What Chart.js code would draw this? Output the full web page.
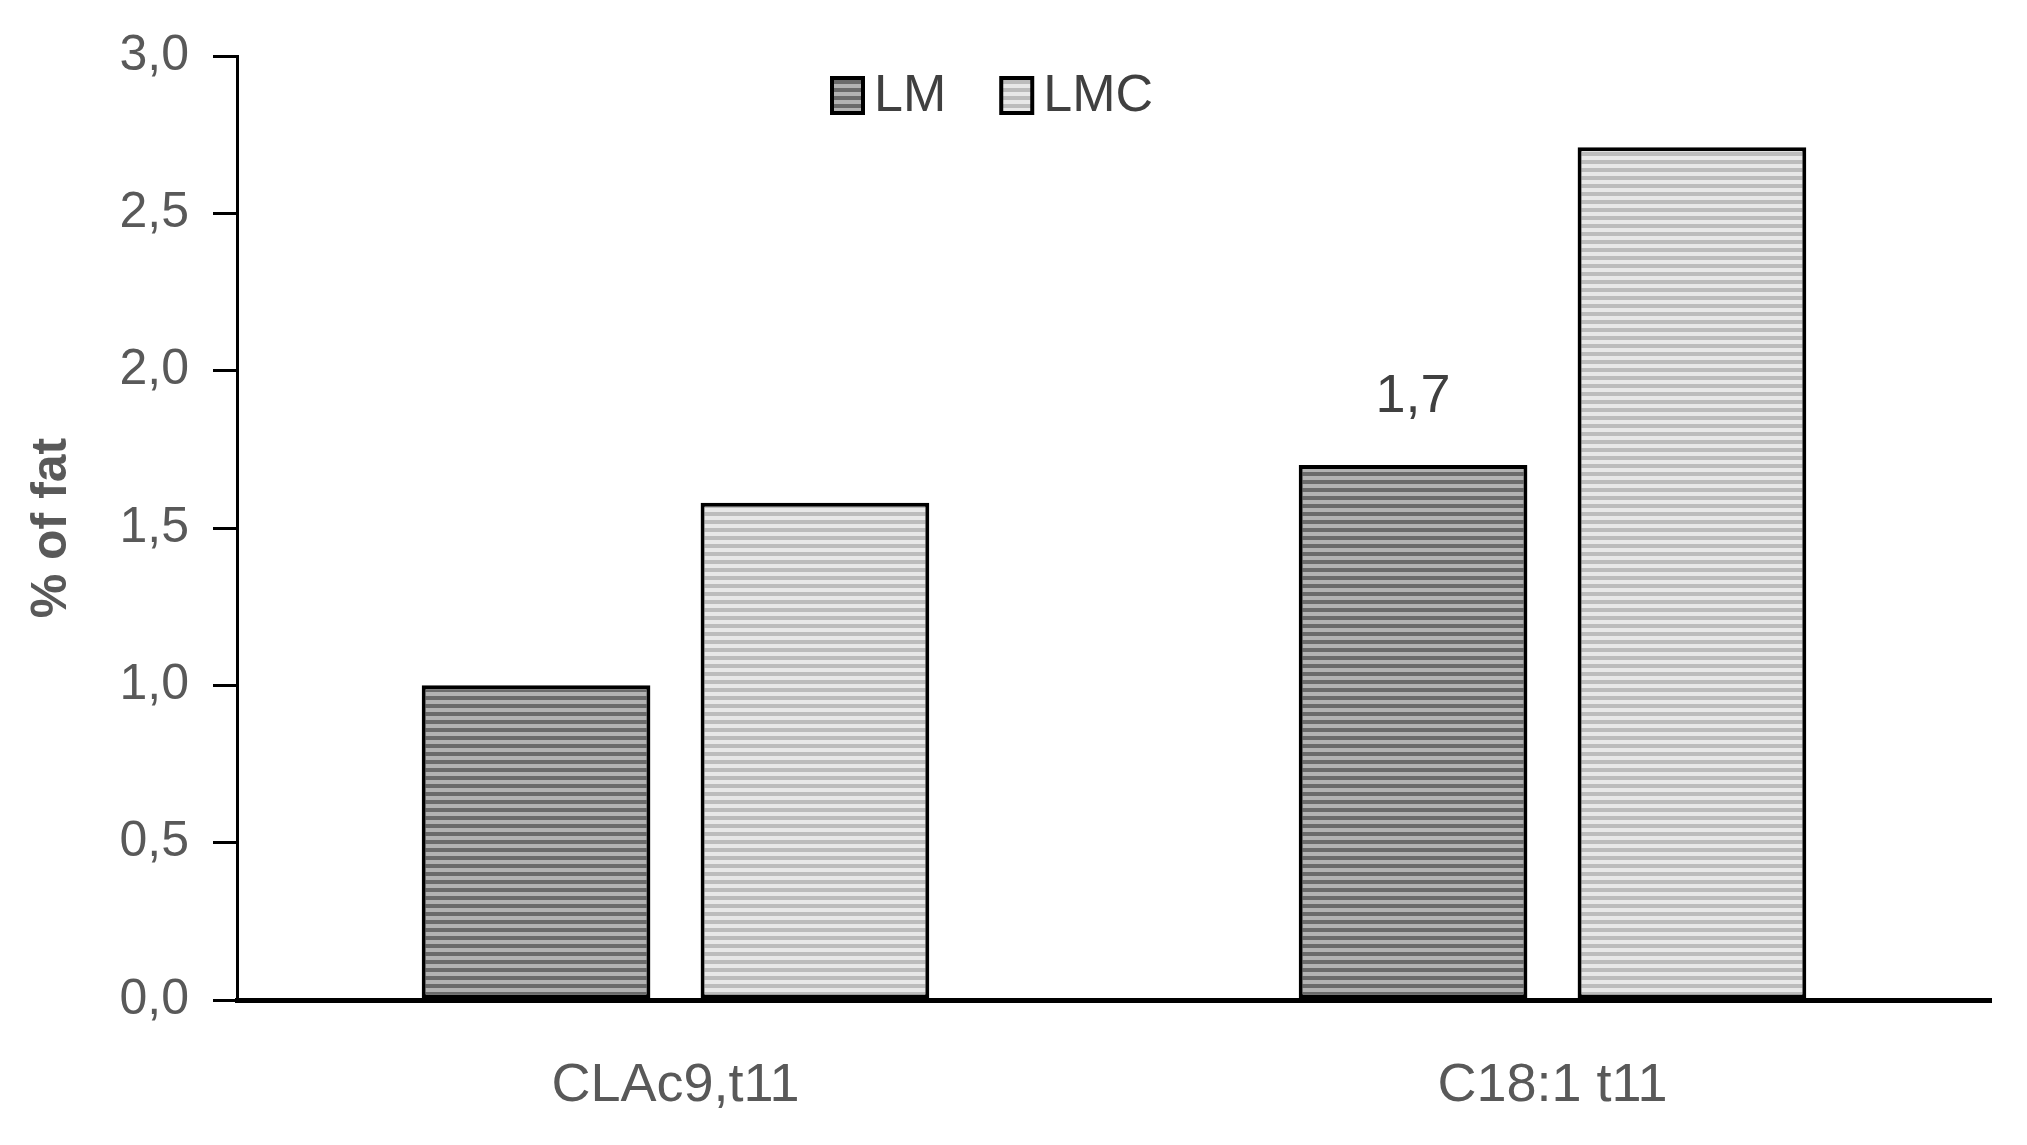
<!DOCTYPE html>
<html>
<head>
<meta charset="utf-8">
<title>% of fat</title>
<script src="https://cdn.jsdelivr.net/npm/chart.js@4/dist/chart.umd.min.js"></script>
<style>
    html, body { margin: 0; padding: 0; background: #fff; }
    #wrap { width: 2027px; height: 1145px; }
</style>
</head>
<body>
<div id="wrap"><canvas id="fatChart"></canvas></div>
<script>
// values
const categories = ['CLAc9,t11', 'C18:1 t11'];
const lmValues = [1.0, 1.7];
const lmcValues = [1.58, 2.71];
const lmLabels = ['', '1,7'];   // only one bar is labelled in the original
const yTickLabels = ['0,0', '0,5', '1,0', '1,5', '2,0', '2,5', '3,0'];

const FONT = '"Liberation Sans", Arial, sans-serif';

// horizontal stripe fill, like the Excel pattern fill
function stripes(dark, light) {
    const c = document.createElement('canvas');
    c.width = 8;
    c.height = 8;
    const g = c.getContext('2d');
    g.fillStyle = light;
    g.fillRect(0, 0, 8, 8);
    g.fillStyle = dark;
    g.fillRect(0, 0, 8, 4);
    return g.createPattern(c, 'repeat');
}

const lmFill = stripes('#6a6a6a', '#b2b2b2');
const lmcFill = stripes('#bcbcbc', '#e8e8e8');

// legend sits inside the plot, so it is drawn here instead of by the built-in box
const innerLegend = {
    id: 'innerLegend',
    afterDraw(chart) {
        const ctx = chart.ctx;
        const y = 95;
        let x = 832;
        ctx.save();
        ctx.font = '52px ' + FONT;
        ctx.textBaseline = 'middle';
        chart.data.datasets.forEach(ds => {
            ctx.fillStyle = ds.backgroundColor;
            ctx.fillRect(x, y - 17, 31, 35);
            ctx.strokeStyle = '#000';
            ctx.lineWidth = 4;
            ctx.strokeRect(x, y - 17, 31, 35);
            ctx.fillStyle = '#404040';
            ctx.fillText(ds.label, x + 42, y + 2);
            x += 42 + ctx.measureText(ds.label).width + 55;
        });
        ctx.restore();
    }
};

const barLabels = {
    id: 'barLabels',
    afterDatasetsDraw(chart) {
        const ctx = chart.ctx;
        const meta = chart.getDatasetMeta(0);
        ctx.save();
        ctx.font = '54px ' + FONT;
        ctx.fillStyle = '#404040';
        ctx.textAlign = 'center';
        ctx.textBaseline = 'middle';
        meta.data.forEach((bar, i) => {
            if (lmLabels[i]) ctx.fillText(lmLabels[i], bar.x, bar.y - 68);
        });
        ctx.restore();
    }
};

new Chart(document.getElementById('fatChart'), {
    type: 'bar',
    data: {
        labels: categories,
        datasets: [
            {
                label: 'LM',
                data: lmValues,
                backgroundColor: lmFill,
                borderColor: '#000',
                borderWidth: 4,
                borderSkipped: false
            },
            {
                label: 'LMC',
                data: lmcValues,
                backgroundColor: lmcFill,
                borderColor: '#000',
                borderWidth: 4,
                borderSkipped: false
            }
        ]
    },
    options: {
        responsive: true,
        maintainAspectRatio: false,
        animation: false,
        categoryPercentage: 0.636,
        barPercentage: 0.82,
        layout: { padding: { top: 56, right: 36, left: 0, bottom: 0 } },
        plugins: {
            legend: { display: false },
            tooltip: { enabled: false }
        },
        scales: {
            x: {
                grid: { display: false },
                border: { color: '#000', width: 5 },
                ticks: {
                    color: '#595959',
                    font: { family: FONT, size: 54 },
                    padding: 46,
                    maxRotation: 0
                },
                afterFit: s => { s.height = 145; }
            },
            y: {
                min: 0,
                max: 3,
                ticks: {
                    stepSize: 0.5,
                    color: '#595959',
                    font: { family: FONT, size: 50 },
                    padding: 24,
                    callback: (v, i) => yTickLabels[i]
                },
                grid: {
                    drawOnChartArea: false,
                    color: '#000',
                    lineWidth: 3,
                    tickLength: 24
                },
                border: { color: '#000', width: 3 },
                title: {
                    display: true,
                    text: '% of fat',
                    color: '#595959',
                    font: { family: FONT, size: 50, weight: 'bold' },
                    padding: { top: 22, bottom: 0 }
                },
                afterFit: s => { s.width = 237; }
            }
        }
    },
    plugins: [innerLegend, barLabels]
});
</script>
</body>
</html>
